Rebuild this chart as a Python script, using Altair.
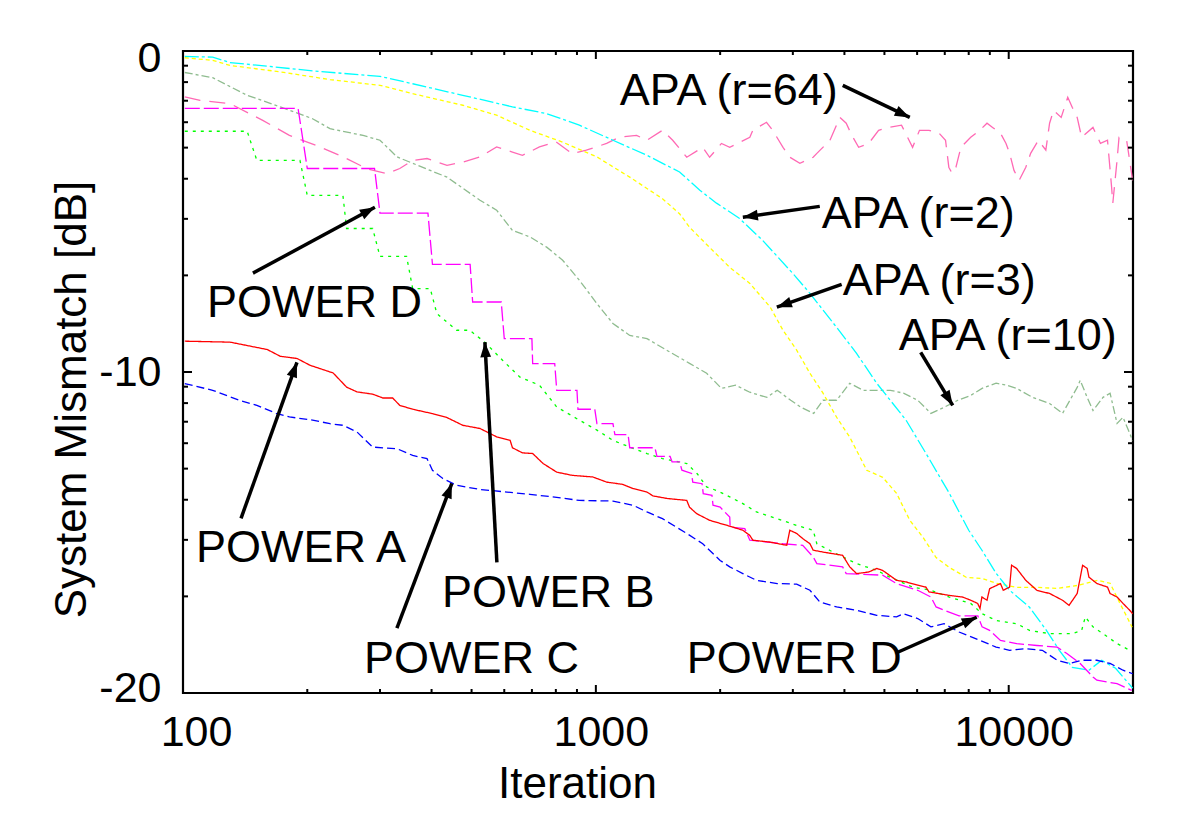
import math
import altair as alt
import pandas as pd

# ---------------- data (iteration, dB) ----------------
PA_IT = [101, 130, 160, 172, 189, 203, 231, 249, 264, 288, 305, 322, 335, 360, 403, 436, 476, 524, 545, 575,
         620, 628, 664, 703, 745, 804, 877, 983, 1062, 1160, 1230, 1330, 1375, 1488, 1660, 1686, 1753, 1886,
         2145, 2270, 2360, 2400, 2645, 2900, 2950, 3065, 3170, 3300, 3360, 3550, 3960, 4120, 4280, 4580, 4790,
         4950, 5350, 5640, 6020, 6300, 6410, 7180, 7730, 8090, 8410, 8520, 8610, 8860, 8990, 9550, 9700, 10050,
         10160, 10450, 11000, 11700, 12560, 13500, 14000, 14650, 15100, 15490, 15640, 16350, 17350, 17600,
         18300, 18920, 19630, 19960]
PA_DB = [-9.04, -9.07, -9.30, -9.51, -9.58, -9.79, -10.03, -10.47, -10.62, -10.69, -10.81, -10.81, -11.04,
         -11.16, -11.30, -11.42, -11.66, -11.76, -11.87, -12.02, -12.13, -12.36, -12.52, -12.54, -12.85, -13.12,
         -13.22, -13.27, -13.43, -13.50, -13.63, -13.74, -13.86, -13.94, -14.00, -14.21, -14.41, -14.62, -14.83,
         -14.93, -15.09, -15.24, -15.30, -15.40, -14.93, -15.03, -15.19, -15.35, -15.55, -15.61, -15.71, -16.07,
         -16.28, -16.23, -16.12, -16.18, -16.49, -16.54, -16.64, -16.70, -16.85, -16.96, -17.01, -17.11, -17.21,
         -17.37, -17.01, -17.11, -16.75, -16.59, -16.80, -16.70, -16.02, -16.12, -16.49, -16.80, -16.90, -17.11,
         -17.27, -16.90, -16.02, -16.12, -16.39, -16.59, -16.70, -16.90, -17.01, -17.21, -17.42, -17.53]

PB_IT = [101, 143, 151, 192, 200, 244, 249, 288, 300, 348, 360, 397, 412, 460, 495, 538, 595, 655, 730, 804,
         912, 1006, 1100, 1208, 1330, 1450, 1660, 1760, 1855, 1960, 2110, 2270, 2450, 2750, 3065, 3360, 3430,
         3690, 3960, 4280, 4790, 5150, 5850, 6480, 7180, 8090, 8620, 9320, 10450, 11230, 12560, 14250, 15020,
         15330, 16000, 16920, 18300, 19630]
PB_DB = [-2.50, -2.50, -3.41, -3.41, -4.50, -4.50, -5.53, -5.53, -6.40, -6.40, -7.40, -7.40, -8.18, -8.70,
         -8.70, -9.07, -9.64, -10.16, -10.41, -11.09, -11.50, -11.81, -12.13, -12.34, -12.54, -12.70, -12.85,
         -13.17, -13.58, -13.69, -13.89, -14.10, -14.36, -14.57, -14.78, -14.93, -15.35, -15.56, -15.76, -15.97,
         -16.18, -16.39, -16.70, -16.80, -17.01, -17.21, -17.53, -17.74, -17.84, -18.05, -18.15, -18.15, -18.05,
         -17.63, -17.94, -18.15, -18.46, -18.67]

PC_IT = [101, 118, 137, 151, 169, 181, 206, 227, 244, 264, 288, 330, 360, 390, 402, 426, 460, 524, 609, 692,
         786, 912, 1100, 1230, 1330, 1450, 1660, 1815, 2000, 2110, 2270, 2450, 2750, 3065, 3300, 3490, 3830,
         4280, 4790, 5350, 5560, 6020, 6480, 6970, 7580, 8520, 9320, 10050, 11000, 12060, 13100, 14000, 15020,
         16350, 17600, 18920, 19960]
PC_DB = [-10.36, -10.57, -10.88, -11.04, -11.30, -11.40, -11.50, -11.61, -11.66, -11.87, -12.34, -12.39, -12.60,
         -12.70, -13.06, -13.32, -13.53, -13.66, -13.74, -13.81, -13.89, -14.00, -14.02, -14.15, -14.36, -14.57,
         -15.03, -15.35, -15.87, -16.07, -16.28, -16.49, -16.59, -16.61, -16.80, -17.17, -17.32, -17.42, -17.58,
         -17.63, -17.53, -17.68, -17.94, -17.84, -18.10, -18.36, -18.57, -18.67, -18.62, -18.67, -18.98, -19.08,
         -18.98, -18.98, -19.08, -19.29, -19.40]

PD_IT = [101, 190, 200, 291, 300, 392, 402, 496, 503, 590, 600, 700, 703, 795, 804, 900, 905, 994, 1006, 1100,
         1112, 1197, 1208, 1390, 1406, 1513, 1530, 1595, 1616, 1705, 1717, 1808, 1820, 1911, 1922, 2000, 2110,
         2115, 2295, 2360, 2840, 3170, 3360, 3430, 3960, 4040, 4950, 5350, 6020, 6480, 6670, 6970, 7580, 8420,
         8620, 8990, 9550, 10450, 11700, 13100, 13830, 14900, 16000, 16350, 18300, 19850]
PD_DB = [-1.79, -1.79, -3.66, -3.66, -5.05, -5.05, -6.65, -6.65, -7.82, -7.82, -8.96, -8.96, -9.74, -9.74,
         -10.57, -10.57, -11.16, -11.16, -11.61, -11.61, -11.95, -11.95, -12.36, -12.36, -12.63, -12.63, -12.80,
         -12.80, -13.06, -13.16, -13.43, -13.48, -13.79, -13.84, -14.15, -14.21, -14.52, -14.83, -14.88, -15.24,
         -15.35, -15.40, -15.76, -15.97, -16.07, -16.28, -16.33, -16.59, -16.80, -17.01, -17.32, -17.42, -17.60,
         -17.60, -17.94, -18.05, -18.36, -18.46, -18.52, -18.57, -18.77, -19.08, -19.50, -19.60, -19.71, -19.92]

A2_IT = [101, 118, 130, 162, 206, 300, 360, 476, 628, 760, 912, 1100, 1330, 1595, 1786, 1960, 2225, 2535, 3000,
         3300, 3830, 4280, 4790, 5640, 6300, 7180, 8000, 8620, 9320, 10050, 11230, 12340, 13260, 14250, 15640,
         16800, 18150, 19960]
A2_DB = [-0.17, -0.19, -0.36, -0.48, -0.62, -0.79, -1.02, -1.38, -1.74, -1.95, -2.31, -2.78, -3.25, -3.77, -4.34,
         -4.74, -5.21, -5.90, -6.93, -7.55, -8.61, -9.42, -10.35, -11.50, -12.53, -13.78, -14.93, -15.56, -16.27,
         -16.80, -17.33, -18.05, -18.67, -19.20, -19.29, -18.98, -19.23, -19.85]

A3_IT = [101, 118, 130, 172, 227, 300, 360, 476, 575, 692, 831, 1006, 1208, 1450, 1595, 1686, 1886, 2110, 2360,
         2645, 2840, 3065, 3300, 3550, 3830, 4120, 4530, 4950, 5350, 5760, 6200, 6670, 7180, 7900, 8620, 9320,
         10450, 11700, 13100, 14650, 16400, 17600, 18600, 19350, 19900]
A3_DB = [-0.21, -0.29, -0.45, -0.65, -0.89, -1.07, -1.33, -1.69, -2.00, -2.47, -2.84, -3.30, -3.93, -4.60, -5.07,
         -5.49, -6.12, -6.74, -7.24, -7.98, -8.70, -9.32, -10.04, -10.66, -11.41, -12.03, -13.06, -13.28, -13.78,
         -14.62, -15.15, -15.78, -16.09, -16.40, -16.43, -16.58, -16.71, -16.71, -16.74, -16.65, -16.49, -16.58,
         -17.21, -17.64, -17.95]

A10_IT = [101, 118, 143, 172, 206, 227, 273, 300, 330, 397, 436, 524, 575, 628, 692, 760, 831, 912, 1006, 1100,
          1208, 1330, 1488, 1686, 1855, 2015, 2180, 2360, 2595, 2750, 2965, 3140, 3370, 3550, 3830, 4120, 4440,
          4890, 5170, 5560, 6020, 6480, 6970, 7530, 8090, 8620, 9320, 9870, 10450, 11420, 12560, 13500, 14650,
          14900, 15490, 16000, 16920, 17600, 18300, 18920, 19630, 19960]
A10_DB = [-0.67, -0.83, -1.38, -1.74, -2.11, -2.42, -2.63, -2.78, -3.30, -3.72, -3.93, -4.65, -4.96, -5.59, -5.79,
          -6.11, -6.52, -7.14, -7.87, -8.49, -8.86, -8.96, -9.33, -9.73, -10.04, -10.51, -10.41, -10.63, -10.79,
          -10.57, -10.88, -11.10, -11.29, -10.88, -10.88, -10.35, -10.57, -10.57, -10.57, -10.66, -10.88, -11.29,
          -11.10, -10.88, -10.73, -10.51, -10.35, -10.41, -10.51, -10.79, -10.98, -11.29, -10.48, -10.26, -10.79,
          -11.20, -10.79, -10.66, -11.60, -11.41, -11.91, -12.13]

A64_IT = [101, 110, 130, 156, 181, 215, 249, 279, 312, 335, 360, 390, 436, 476, 524, 575, 628, 664, 730, 801,
          877, 948, 1062, 1143, 1255, 1330, 1450, 1535, 1660, 1815, 1886, 2015, 2110, 2360, 2400, 2590, 2680,
          2840, 2950, 3120, 3360, 3430, 3690, 3900, 4040, 4170, 4330, 4580, 4840, 5120, 5500, 5850, 6080, 6410,
          6780, 7030, 7160, 7290, 7450, 7660, 8090, 8510, 8860, 9140, 9550, 9850, 10050, 10300, 10600, 11000,
          11300, 11800, 12300, 12560, 12840, 13400, 13900, 14250, 14650, 15020, 16000, 16680, 17350, 17750,
          17870, 18300, 18500, 19300, 19960]
A64_DB = [-1.43, -1.54, -1.64, -2.16, -2.63, -2.99, -3.35, -3.67, -3.82, -3.66, -3.41, -3.35, -3.56, -3.46, -3.30,
          -2.99, -3.15, -3.25, -2.99, -2.83, -3.20, -3.09, -2.88, -2.68, -2.63, -2.78, -2.47, -2.78, -3.31, -3.00,
          -3.31, -2.88, -3.00, -2.69, -2.47, -2.22, -2.47, -3.00, -3.31, -3.50, -3.31, -3.19, -2.78, -2.07, -2.25,
          -2.63, -3.00, -2.88, -2.47, -2.38, -2.31, -3.00, -2.47, -2.47, -2.56, -2.78, -3.62, -3.81, -3.62, -3.00,
          -2.69, -2.47, -2.25, -2.38, -2.56, -2.88, -3.19, -3.72, -4.03, -3.62, -3.19, -2.78, -3.09, -2.25, -1.85,
          -2.07, -1.44, -1.75, -2.07, -2.69, -2.38, -2.88, -2.78, -4.24, -4.74, -3.40, -2.69, -2.78, -4.03]

SERIES_NAMES = ["APA (r=64)", "APA (r=10)", "APA (r=3)", "APA (r=2)", "POWER B", "POWER C", "POWER D", "POWER A"]
SERIES_DATA = [(A64_IT, A64_DB), (A10_IT, A10_DB), (A3_IT, A3_DB), (A2_IT, A2_DB),
               (PB_IT, PB_DB), (PC_IT, PC_DB), (PD_IT, PD_DB), (PA_IT, PA_DB)]
SERIES_COLORS = ["#ff69b4", "#8fbc8f", "#ffff00", "#00ffff", "#00ff00", "#0000ff", "#ff00ff", "#ff0000"]
SERIES_DASHES = [[16, 9], [8, 3, 3, 3], [4, 3], [14, 3, 3, 3], [3, 5], [8, 4], [15, 4], [1, 0]]

# annotations
LABEL_TEXT = ["APA (r=64)", "APA (r=2)", "APA (r=3)", "APA (r=10)", "POWER D", "POWER A", "POWER B", "POWER C", "POWER D"]
LABEL_IT = [1143, 3525, 3963, 5416, 114.3, 107.5, 423.7, 274.4, 1661]
LABEL_DB = [-1.69, -5.52, -7.61, -9.32, -8.30, -15.93, -17.33, -19.39, -19.39]

ARROW_TAIL_IT = [3963, 3486, 3939, 6120, 147.7, 138.2, 575.8, 329.7, 5385]
ARROW_TAIL_DB = [-1.07, -4.84, -7.27, -9.39, -6.92, -14.56, -15.93, -17.98, -18.73]
ARROW_HEAD_IT = [5758, 2270, 2744, 7318, 291.6, 188.8, 538.5, 448, 8366]
ARROW_HEAD_DB = [-2.07, -5.18, -7.98, -11.04, -4.87, -9.70, -9.07, -13.47, -17.64]

X_MAJOR = [100, 1000, 10000]
X_MINOR = [200, 300, 400, 500, 600, 700, 800, 900, 2000, 3000, 4000, 5000, 6000, 7000, 8000, 9000]
Y_MAJOR = [1, 0.1, 0.01]
Y_MINOR = [0.9, 0.8, 0.7, 0.6, 0.5, 0.4, 0.3, 0.2, 0.09, 0.08, 0.07, 0.06, 0.05, 0.04, 0.03, 0.02]

# ---------------- chart ----------------
W, H = 950, 642
X_DOM = [100, 20000]
Y_DOM = [0.01, 1]
FONT = "Liberation Sans"

rows = []
for name, (its, dbs) in zip(SERIES_NAMES, SERIES_DATA):
    for i, (a, b) in enumerate(zip(its, dbs)):
        rows.append({"series": name, "it": a, "db": b, "idx": i})
curves = pd.DataFrame(rows)

labels = pd.DataFrame({"label": LABEL_TEXT, "it": LABEL_IT, "db": LABEL_DB})


def px(it):
    return W * (math.log10(it) - math.log10(X_DOM[0])) / (math.log10(X_DOM[1]) - math.log10(X_DOM[0]))


def py(db):
    return -db * H / 20.0


angles = []
for ti, td, hi, hd in zip(ARROW_TAIL_IT, ARROW_TAIL_DB, ARROW_HEAD_IT, ARROW_HEAD_DB):
    dx = px(hi) - px(ti)
    dy = py(hd) - py(td)
    angles.append(math.degrees(math.atan2(dx, -dy)) % 360)
arrows = pd.DataFrame({"x0": ARROW_TAIL_IT, "d0": ARROW_TAIL_DB, "x1": ARROW_HEAD_IT, "d1": ARROW_HEAD_DB,
                       "ang": angles})

xs = alt.Scale(type="log", domain=X_DOM, nice=False)
ys = alt.Scale(type="log", domain=Y_DOM, nice=False)

xaxis = alt.Axis(values=X_MAJOR, format="d", grid=False, domain=False, ticks=False, tickSize=0,
                 labelFont=FONT, labelFontSize=43, labelColor="black", labelPadding=18, labelFlush=False,
                 labelOffset={"condition": {"test": "datum.value <= 100", "value": 13}, "value": 5},
                 title="Iteration", titleFont=FONT, titleFontSize=44, titleFontWeight="normal",
                 titleColor="black", titleX=394, titleY=104, titleBaseline="alphabetic", titleAlign="center",
                 titleAnchor="start")
yaxis = alt.Axis(values=Y_MAJOR, labelExpr="'' + round(10 * log(datum.value) / LN10)", grid=False, domain=False,
                 ticks=False, tickSize=0, labelFont=FONT, labelFontSize=43, labelColor="black", labelPadding=22,
                 labelFlush=False,
                 labelOffset={"condition": [{"test": "datum.value >= 0.99", "value": 7},
                                            {"test": "datum.value <= 0.0101", "value": -5}], "value": 0},
                 title="System Mismatch [dB]", titleFont=FONT, titleFontSize=44, titleFontWeight="normal",
                 titleColor="black", titleX=-98, titleY=348, titleAngle=270, titleBaseline="alphabetic",
                 titleAlign="center", titleAnchor="start")

lines = alt.Chart(curves).transform_calculate(r="pow(10, datum.db / 10)").mark_line(
    clip=True, strokeWidth=1.3).encode(
    x=alt.X("it:Q", scale=xs, axis=xaxis),
    y=alt.Y("r:Q", scale=ys, axis=yaxis),
    color=alt.Color("series:N", scale=alt.Scale(domain=SERIES_NAMES, range=SERIES_COLORS), legend=None),
    strokeDash=alt.StrokeDash("series:N", scale=alt.Scale(domain=SERIES_NAMES, range=SERIES_DASHES), legend=None),
    detail="series:N",
    order="idx:Q",
)

tick_layers = []
for vals, ln in ((X_MAJOR, 8), (X_MINOR, 4)):
    d = pd.DataFrame({"it": vals})
    tick_layers.append(alt.Chart(d).mark_rule(color="black", strokeWidth=2).encode(
        x=alt.X("it:Q", scale=xs, axis=xaxis), y=alt.value(H), y2=alt.value(H - ln)))
    tick_layers.append(alt.Chart(d).mark_rule(color="black", strokeWidth=2).encode(
        x=alt.X("it:Q", scale=xs, axis=xaxis), y=alt.value(0), y2=alt.value(ln)))
for vals, ln in ((Y_MAJOR, 9), (Y_MINOR, 5)):
    d = pd.DataFrame({"r": vals})
    tick_layers.append(alt.Chart(d).mark_rule(color="black", strokeWidth=2).encode(
        y=alt.Y("r:Q", scale=ys, axis=yaxis), x=alt.value(0), x2=alt.value(ln)))
    tick_layers.append(alt.Chart(d).mark_rule(color="black", strokeWidth=2).encode(
        y=alt.Y("r:Q", scale=ys, axis=yaxis), x=alt.value(W), x2=alt.value(W - ln)))

arrow_base = alt.Chart(arrows).transform_calculate(
    r0="pow(10, datum.d0 / 10)", r1="pow(10, datum.d1 / 10)")
arrow_lines = arrow_base.mark_rule(color="black", strokeWidth=3.5).encode(
    x=alt.X("x0:Q", scale=xs, axis=xaxis), y=alt.Y("r0:Q", scale=ys, axis=yaxis),
    x2="x1:Q", y2="r1:Q")
arrow_heads = arrow_base.mark_point(shape="M0,0L0.36,1L-0.36,1Z", filled=True, size=900, color="black",
                                    opacity=1, strokeWidth=0).encode(
    x=alt.X("x1:Q", scale=xs, axis=xaxis), y=alt.Y("r1:Q", scale=ys, axis=yaxis),
    angle=alt.Angle("ang:Q", scale=None))

texts = alt.Chart(labels).transform_calculate(r="pow(10, datum.db / 10)").mark_text(
    align="left", baseline="alphabetic", font=FONT, fontSize=45, color="black").encode(
    x=alt.X("it:Q", scale=xs, axis=xaxis), y=alt.Y("r:Q", scale=ys, axis=yaxis), text="label:N")

chart = alt.layer(lines, *tick_layers, arrow_lines, arrow_heads, texts).properties(
    width=W, height=H, autosize=alt.AutoSizeParams(type="none"),
    padding={"left": 175, "top": 43, "right": 30, "bottom": 120},
    background="white",
).configure_view(stroke="black", strokeWidth=2.2)

chart.save("out.html", embed_options={"renderer": "svg", "actions": False})
